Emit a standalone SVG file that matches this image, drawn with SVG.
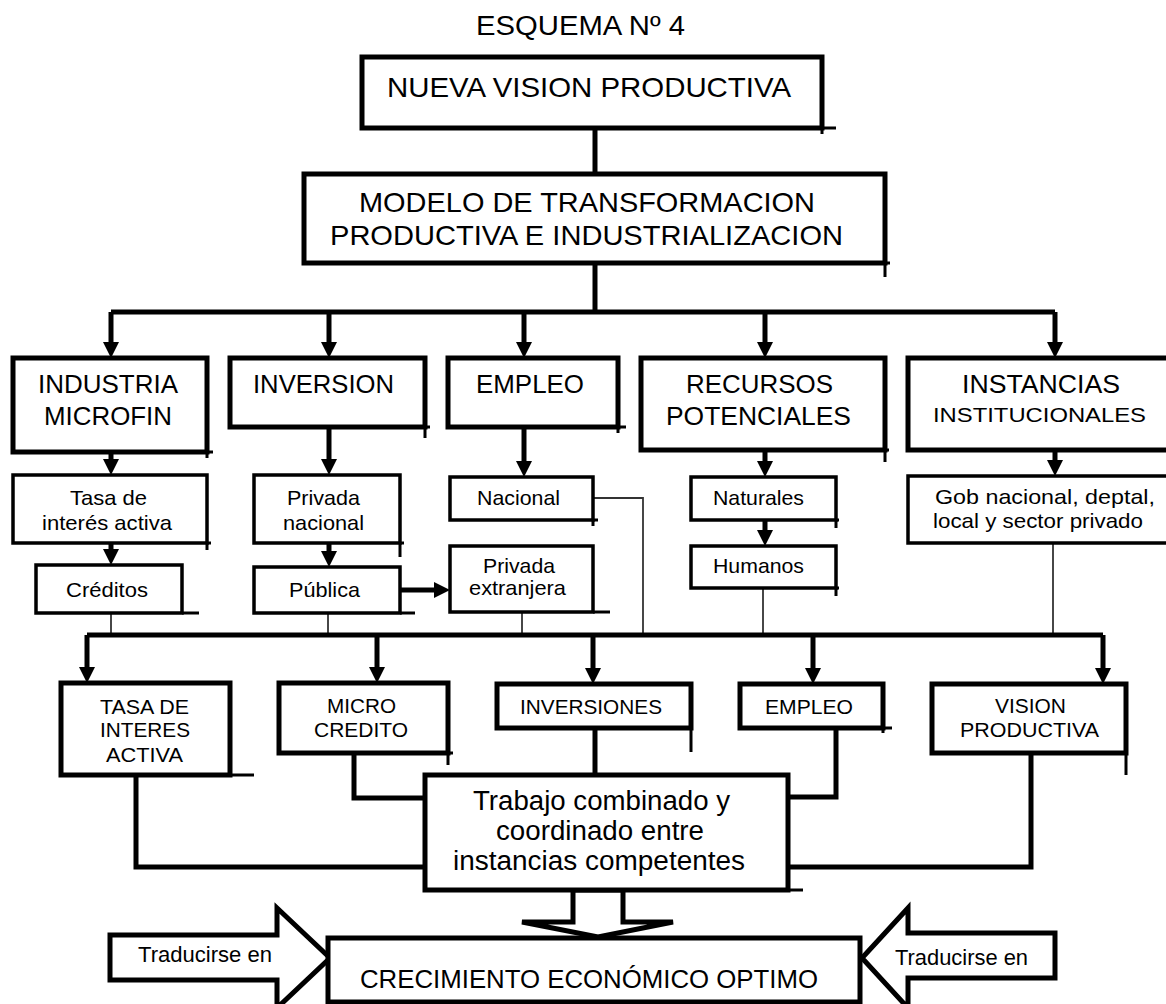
<svg xmlns="http://www.w3.org/2000/svg" width="1166" height="1004" viewBox="0 0 1166 1004">
<style>
.box{fill:#fff;stroke:#000;stroke-width:5}
.sub{fill:#fff;stroke:#000;stroke-width:3.5}
.t{font-family:"Liberation Sans",Arial,sans-serif;fill:#000}
.thick{stroke:#000;stroke-width:5;fill:none}
.thin{stroke:#333;stroke-width:1.8;fill:none}
.tail{stroke:#000;stroke-width:3;fill:none}
.barrow{fill:#fff;stroke:#000;stroke-width:5;stroke-linejoin:miter}
</style>
<defs>
<marker id="ah" markerUnits="userSpaceOnUse" viewBox="0 0 16 16" markerWidth="16" markerHeight="16" refX="0" refY="8" orient="auto">
<path d="M0,0 L16,8 L0,16 z" fill="#000"/>
</marker>
</defs>
<rect width="1166" height="1004" fill="#fff"/>

<text class="t" x="476" y="35" font-size="27" textLength="209" lengthAdjust="spacingAndGlyphs">ESQUEMA Nº 4</text>

<g id="connectors">
<path class="thick" d="M595 128 V174"/>
<path class="thick" d="M595 263 V312"/>
<path class="thick" d="M111 312 H1055"/>
<path class="thick" d="M111 312 V342" marker-end="url(#ah)"/>
<path class="thick" d="M329 312 V342" marker-end="url(#ah)"/>
<path class="thick" d="M524 312 V342" marker-end="url(#ah)"/>
<path class="thick" d="M765 312 V342" marker-end="url(#ah)"/>
<path class="thick" d="M1055 312 V342" marker-end="url(#ah)"/>
<path class="thick" d="M111 452 V459" marker-end="url(#ah)"/>
<path class="thick" d="M111 543 V549" marker-end="url(#ah)"/>
<path class="thick" d="M329 427 V459" marker-end="url(#ah)"/>
<path class="thick" d="M329 543 V551" marker-end="url(#ah)"/>
<path class="thick" d="M400 590 H434" marker-end="url(#ah)"/>
<path class="thick" d="M524 427 V461" marker-end="url(#ah)"/>
<path class="thick" d="M765 450 V461" marker-end="url(#ah)"/>
<path class="thick" d="M765 520 V530" marker-end="url(#ah)"/>
<path class="thick" d="M1055 450 V460" marker-end="url(#ah)"/>
<path class="thin" d="M111 613 V635"/>
<path class="thin" d="M328 613 V635"/>
<path class="thin" d="M522 612 V635"/>
<path class="thin" d="M593 498 H643 V635"/>
<path class="thin" d="M763 588 V635"/>
<path class="thin" d="M1053 543 V635"/>
<path class="thick" d="M87 635 H1103"/>
<path class="thick" d="M87 635 V667" marker-end="url(#ah)"/>
<path class="thick" d="M377 635 V667" marker-end="url(#ah)"/>
<path class="thick" d="M593 635 V668" marker-end="url(#ah)"/>
<path class="thick" d="M813 635 V668" marker-end="url(#ah)"/>
<path class="thick" d="M1103 635 V668" marker-end="url(#ah)"/>
<path class="thick" d="M136 775 V867 H425"/>
<path class="thick" d="M354 753 V798 H425"/>
<path class="thick" d="M595 728 V775"/>
<path class="thick" d="M836 728 V797 H788"/>
<path class="thick" d="M1031 753 V867 H788"/>
<polygon class="barrow" points="573,890 573,922 522,922 598,937 673,922 623,922 623,890"/>
<polygon class="barrow" points="110,935 277,935 277,908 330,958 277,1008 277,980 110,980"/>
<polygon class="barrow" points="1055,933 908,933 908,908 862,958 908,1008 908,978 1055,978"/>
</g>
<text class="t" x="138" y="962" font-size="22" textLength="134" lengthAdjust="spacingAndGlyphs">Traducirse en</text>
<text class="t" x="895" y="965" font-size="22" textLength="133" lengthAdjust="spacingAndGlyphs">Traducirse en</text>

<g id="nueva">
<rect class="box" x="362" y="57" width="460" height="71"/>
<path class="tail" d="M822 128 h14 M822 128 v6"/>
<text class="t" x="387" y="97" font-size="28" textLength="404" lengthAdjust="spacingAndGlyphs">NUEVA VISION PRODUCTIVA</text>
</g>
<g id="modelo">
<rect class="box" x="304" y="174" width="581" height="89"/>
<path class="tail" d="M885 263 h5 M885 263 v14"/>
<text class="t" x="359" y="212" font-size="28" textLength="456" lengthAdjust="spacingAndGlyphs">MODELO DE TRANSFORMACION</text>
<text class="t" x="330" y="245" font-size="28" textLength="513" lengthAdjust="spacingAndGlyphs">PRODUCTIVA E INDUSTRIALIZACION</text>
</g>

<g id="industria">
<rect class="box" x="13" y="358" width="194" height="94"/>
<path class="tail" d="M207 452 h6 M207 452 v6"/>
<text class="t" x="38" y="393" font-size="25" textLength="140" lengthAdjust="spacingAndGlyphs">INDUSTRIA</text>
<text class="t" x="44" y="425" font-size="25" textLength="128" lengthAdjust="spacingAndGlyphs">MICROFIN</text>
</g>
<g id="inversion">
<rect class="box" x="230" y="358" width="195" height="69"/>
<path class="tail" d="M425 427 h5 M425 427 v11"/>
<text class="t" x="253" y="393" font-size="25" textLength="141" lengthAdjust="spacingAndGlyphs">INVERSION</text>
</g>
<g id="empleo">
<rect class="box" x="448" y="358" width="170" height="69"/>
<path class="tail" d="M618 427 h8 M618 427 v6"/>
<text class="t" x="476" y="393" font-size="25" textLength="108" lengthAdjust="spacingAndGlyphs">EMPLEO</text>
</g>
<g id="recursos">
<rect class="box" x="641" y="358" width="244" height="92"/>
<path class="tail" d="M885 450 h4 M885 450 v12"/>
<text class="t" x="686" y="393" font-size="25" textLength="147" lengthAdjust="spacingAndGlyphs">RECURSOS</text>
<text class="t" x="666" y="425" font-size="25" textLength="185" lengthAdjust="spacingAndGlyphs">POTENCIALES</text>
</g>
<g id="instancias">
<rect class="box" x="908" y="358" width="266" height="92"/>
<text class="t" x="962" y="393" font-size="25" textLength="158" lengthAdjust="spacingAndGlyphs">INSTANCIAS</text>
<text class="t" x="933" y="422" font-size="21" textLength="213" lengthAdjust="spacingAndGlyphs">INSTITUCIONALES</text>
</g>

<g id="tasa">
<rect class="sub" x="13" y="475" width="194" height="68"/>
<path class="tail" d="M207 543 h4 M207 543 v7"/>
<text class="t" x="70" y="505" font-size="21" textLength="77" lengthAdjust="spacingAndGlyphs">Tasa de</text>
<text class="t" x="42" y="530" font-size="21" textLength="130" lengthAdjust="spacingAndGlyphs">interés activa</text>
</g>
<g id="creditos">
<rect class="sub" x="36" y="565" width="146" height="48"/>
<path class="tail" d="M182 613 h17"/>
<text class="t" x="66" y="597" font-size="21" textLength="82" lengthAdjust="spacingAndGlyphs">Créditos</text>
</g>
<g id="privada-nacional">
<rect class="sub" x="254" y="475" width="146" height="68"/>
<path class="tail" d="M400 543 h4 M400 543 v14"/>
<text class="t" x="287" y="505" font-size="21" textLength="73" lengthAdjust="spacingAndGlyphs">Privada</text>
<text class="t" x="283" y="530" font-size="21" textLength="81" lengthAdjust="spacingAndGlyphs">nacional</text>
</g>
<g id="publica">
<rect class="sub" x="254" y="567" width="146" height="46"/>
<path class="tail" d="M400 613 h15"/>
<text class="t" x="289" y="597" font-size="21" textLength="71" lengthAdjust="spacingAndGlyphs">Pública</text>
</g>
<g id="nacional">
<rect class="sub" x="450" y="477" width="143" height="43"/>
<path class="tail" d="M593 520 h5 M593 520 v6"/>
<text class="t" x="477" y="505" font-size="21" textLength="83" lengthAdjust="spacingAndGlyphs">Nacional</text>
</g>
<g id="privada-extranjera">
<rect class="sub" x="450" y="546" width="143" height="66"/>
<path class="tail" d="M593 612 h17"/>
<text class="t" x="483" y="573" font-size="21" textLength="72" lengthAdjust="spacingAndGlyphs">Privada</text>
<text class="t" x="469" y="595" font-size="21" textLength="97" lengthAdjust="spacingAndGlyphs">extranjera</text>
</g>
<g id="naturales">
<rect class="sub" x="691" y="477" width="145" height="43"/>
<path class="tail" d="M836 520 h3 M836 520 v8"/>
<text class="t" x="713" y="505" font-size="21" textLength="91" lengthAdjust="spacingAndGlyphs">Naturales</text>
</g>
<g id="humanos">
<rect class="sub" x="691" y="546" width="145" height="42"/>
<path class="tail" d="M836 588 h3 M836 588 v8"/>
<text class="t" x="713" y="573" font-size="21" textLength="91" lengthAdjust="spacingAndGlyphs">Humanos</text>
</g>
<g id="gob">
<rect class="sub" x="908" y="476" width="266" height="67"/>
<text class="t" x="935" y="504" font-size="21" textLength="220" lengthAdjust="spacingAndGlyphs">Gob  nacional,  deptal,</text>
<text class="t" x="933" y="528" font-size="21" textLength="210" lengthAdjust="spacingAndGlyphs">local y sector privado</text>
</g>

<g id="tasa-interes">
<rect class="box" x="61" y="683" width="169" height="92"/>
<path class="tail" d="M230 775 h24"/>
<text class="t" x="100" y="714" font-size="20" textLength="89" lengthAdjust="spacingAndGlyphs">TASA DE</text>
<text class="t" x="100" y="737" font-size="20" textLength="90" lengthAdjust="spacingAndGlyphs">INTERES</text>
<text class="t" x="106" y="762" font-size="20" textLength="77" lengthAdjust="spacingAndGlyphs">ACTIVA</text>
</g>
<g id="micro-credito">
<rect class="box" x="279" y="683" width="169" height="70"/>
<path class="tail" d="M448 753 h5 M448 753 v12"/>
<text class="t" x="327" y="713" font-size="20" textLength="69" lengthAdjust="spacingAndGlyphs">MICRO</text>
<text class="t" x="314" y="737" font-size="20" textLength="94" lengthAdjust="spacingAndGlyphs">CREDITO</text>
</g>
<g id="inversiones">
<rect class="box" x="497" y="684" width="194" height="44"/>
<path class="tail" d="M691 728 v24"/>
<text class="t" x="520" y="714" font-size="20" textLength="142" lengthAdjust="spacingAndGlyphs">INVERSIONES</text>
</g>
<g id="empleo-2">
<rect class="box" x="740" y="684" width="143" height="44"/>
<path class="tail" d="M883 728 h9 M883 728 v5"/>
<text class="t" x="765" y="714" font-size="20" textLength="88" lengthAdjust="spacingAndGlyphs">EMPLEO</text>
</g>
<g id="vision-productiva">
<rect class="box" x="932" y="684" width="194" height="69"/>
<path class="tail" d="M1126 753 v22"/>
<text class="t" x="995" y="713" font-size="20" textLength="71" lengthAdjust="spacingAndGlyphs">VISION</text>
<text class="t" x="960" y="737" font-size="20" textLength="139" lengthAdjust="spacingAndGlyphs">PRODUCTIVA</text>
</g>
<g id="trabajo">
<rect class="box" x="425" y="775" width="363" height="115"/>
<path class="tail" d="M788 890 h15"/>
<text class="t" x="473" y="810" font-size="27" textLength="257" lengthAdjust="spacingAndGlyphs">Trabajo combinado y</text>
<text class="t" x="496" y="840" font-size="27" textLength="208" lengthAdjust="spacingAndGlyphs">coordinado entre</text>
<text class="t" x="453" y="870" font-size="27" textLength="292" lengthAdjust="spacingAndGlyphs">instancias competentes</text>
</g>
<g id="crecimiento">
<rect class="box" x="328" y="938" width="532" height="64"/>
<text class="t" x="360" y="988" font-size="26" textLength="458" lengthAdjust="spacingAndGlyphs">CRECIMIENTO ECONÓMICO OPTIMO</text>
</g>
</svg>
